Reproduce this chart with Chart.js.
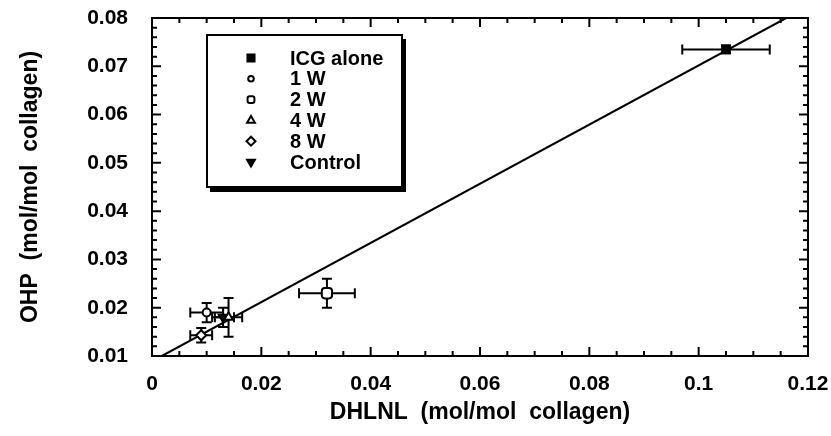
<!DOCTYPE html>
<html>
<head>
<meta charset="utf-8">
<script src="https://cdn.jsdelivr.net/npm/chart.js@4.4.1/dist/chart.umd.min.js"></script>
<style>
  html, body { margin: 0; padding: 0; background: #fff; }
</style>
</head>
<body>
<canvas id="myChart" width="831" height="436"></canvas>
<script>
// data
const groups = ["ICG alone", "1 W", "2 W", "4 W", "8 W", "Control"];
const dhlnl = [0.105, 0.010, 0.032, 0.014, 0.009, 0.013];
const dhlnlErr = [0.008, 0.003, 0.0051, 0.0025, 0.002, 0.002];
const ohp = [0.0735, 0.019, 0.023, 0.018, 0.0143, 0.018];
const ohpErr = [0.0008, 0.002, 0.003, 0.004, 0.0015, 0.002];
const fitX = [0.0018, 0.116];
const fitY = [0.01, 0.08];

const markers = [
  { style: "rect", radius: 5.5, legend: 5, fill: "#000", rot: 0 },
  { style: "circle", radius: 4, legend: 2.8, fill: "#fff", rot: 0 },
  { style: "rectRounded", radius: 6, legend: 4, fill: "#fff", rot: 0 },
  { style: "triangle", radius: 5, legend: 4.5, fill: "#fff", rot: 0 },
  { style: "rectRot", radius: 5, legend: 4.5, fill: "#fff", rot: 0 },
  { style: "triangle", radius: 5, legend: 4.5, fill: "#000", rot: 180 }
];

const FONT = "'Liberation Sans', Arial, Helvetica, sans-serif";

function isMajor(v, step) {
  const r = v / step;
  return Math.abs(r - Math.round(r)) < 1e-6;
}
function fmt(v) {
  return parseFloat(v.toFixed(4)).toString();
}

// error bars, drawn under the markers
const errorBars = {
  id: "errorBars",
  beforeDatasetsDraw(chart) {
    const { ctx, scales: { x, y } } = chart;
    ctx.save();
    ctx.strokeStyle = "#000";
    ctx.lineWidth = 2;
    const cap = 5;
    for (let i = 0; i < groups.length; i++) {
      const px = x.getPixelForValue(dhlnl[i]);
      const py = y.getPixelForValue(ohp[i]);
      const x0 = x.getPixelForValue(dhlnl[i] - dhlnlErr[i]);
      const x1 = x.getPixelForValue(dhlnl[i] + dhlnlErr[i]);
      const y0 = y.getPixelForValue(ohp[i] - ohpErr[i]);
      const y1 = y.getPixelForValue(ohp[i] + ohpErr[i]);
      ctx.beginPath();
      ctx.moveTo(x0, py); ctx.lineTo(x1, py);
      ctx.moveTo(x0, py - cap); ctx.lineTo(x0, py + cap);
      ctx.moveTo(x1, py - cap); ctx.lineTo(x1, py + cap);
      ctx.moveTo(px, y0); ctx.lineTo(px, y1);
      ctx.moveTo(px - cap, y0); ctx.lineTo(px + cap, y0);
      ctx.moveTo(px - cap, y1); ctx.lineTo(px + cap, y1);
      ctx.stroke();
    }
    ctx.restore();
  }
};

// frame with inward ticks on all four sides, plus the boxed legend
const frame = {
  id: "frame",
  afterDraw(chart) {
    const { ctx, chartArea: a, scales: { x, y } } = chart;
    ctx.save();
    ctx.strokeStyle = "#000";
    ctx.lineWidth = 2;
    ctx.strokeRect(a.left, a.top, a.right - a.left, a.bottom - a.top);
    ctx.beginPath();
    x.ticks.forEach(t => {
      const px = x.getPixelForValue(t.value);
      const len = isMajor(t.value, 0.02) ? 9 : 5;
      ctx.moveTo(px, a.bottom); ctx.lineTo(px, a.bottom - len);
      ctx.moveTo(px, a.top); ctx.lineTo(px, a.top + len);
    });
    y.ticks.forEach(t => {
      const py = y.getPixelForValue(t.value);
      const len = isMajor(t.value, 0.01) ? 9 : 5;
      ctx.moveTo(a.left, py); ctx.lineTo(a.left + len, py);
      ctx.moveTo(a.right, py); ctx.lineTo(a.right - len, py);
    });
    ctx.stroke();

    // legend box with a drop shadow on the right and bottom
    const bx = 207, by = 35, bw = 195, bh = 152;
    ctx.fillStyle = "#000";
    ctx.fillRect(bx + 3, by + bh, bw, 5);
    ctx.fillRect(bx + bw, by + 4, 4, bh + 1);
    ctx.fillStyle = "#fff";
    ctx.fillRect(bx, by, bw, bh);
    ctx.strokeRect(bx, by, bw, bh);
    ctx.font = "bold 20px " + FONT;
    ctx.textBaseline = "middle";
    ctx.textAlign = "left";
    groups.forEach((g, i) => {
      const ly = 58 + i * 20.8;
      const m = markers[i];
      ctx.fillStyle = m.fill;
      ctx.strokeStyle = "#000";
      ctx.lineWidth = 2;
      Chart.helpers.drawPoint(ctx, {
        pointStyle: m.style, radius: m.legend, rotation: m.rot, borderWidth: 2
      }, 251, ly);
      ctx.fillStyle = "#000";
      ctx.fillText(g, 290, ly + 1);
    });
    ctx.restore();
  }
};

const datasets = groups.map((g, i) => ({
  label: g,
  data: [{ x: dhlnl[i], y: ohp[i] }],
  pointStyle: markers[i].style,
  pointRadius: markers[i].radius,
  pointRotation: markers[i].rot,
  pointBackgroundColor: markers[i].fill,
  pointBorderColor: "#000",
  pointBorderWidth: 2
}));
datasets.push({
  type: "line",
  label: "fit",
  data: fitX.map((v, i) => ({ x: v, y: fitY[i] })),
  borderColor: "#000",
  borderWidth: 2,
  pointRadius: 0,
  order: 10
});

// invisible tick marks push the labels away from the axes
// without adding to the edge padding Chart.js reserves for them
const hiddenTicks = (len) => ({
  display: true, drawOnChartArea: false, drawTicks: true,
  tickLength: len, tickColor: "rgba(0,0,0,0)"
});

const ctx = document.getElementById("myChart").getContext("2d");
const chart = new Chart(ctx, {
  type: "scatter",
  data: { datasets },
  options: {
    responsive: false,
    animation: false,
    layout: { padding: { left: 0, top: 18, right: 23, bottom: 0 } },
    plugins: {
      legend: { display: false },
      tooltip: { enabled: false }
    },
    scales: {
      x: {
        type: "linear",
        min: 0, max: 0.12,
        afterFit: s => { s.height = 80; },
        grid: hiddenTicks(16),
        border: { display: false },
        ticks: {
          stepSize: 0.005, autoSkip: false, maxRotation: 0,
          padding: 0, color: "#000",
          font: { family: FONT, size: 21, weight: "bold" },
          callback: v => isMajor(v, 0.02) ? fmt(v) : ""
        },
        title: {
          display: true, text: "DHLNL  (mol/mol  collagen)", color: "#000",
          font: { family: FONT, size: 23, weight: "bold" },
          padding: { top: 0, bottom: 10 }
        }
      },
      y: {
        type: "linear",
        min: 0.01, max: 0.08,
        afterFit: s => { s.width = 152; },
        grid: hiddenTicks(24),
        border: { display: false },
        ticks: {
          stepSize: 0.002, autoSkip: false,
          padding: 0, color: "#000",
          font: { family: FONT, size: 21, weight: "bold" },
          callback: v => isMajor(v, 0.01) ? fmt(v) : ""
        },
        title: {
          display: true, text: "OHP  (mol/mol  collagen)", color: "#000",
          font: { family: FONT, size: 23, weight: "bold" },
          padding: { top: 17, bottom: 0 }
        }
      }
    }
  },
  plugins: [errorBars, frame]
});
</script>
</body>
</html>
